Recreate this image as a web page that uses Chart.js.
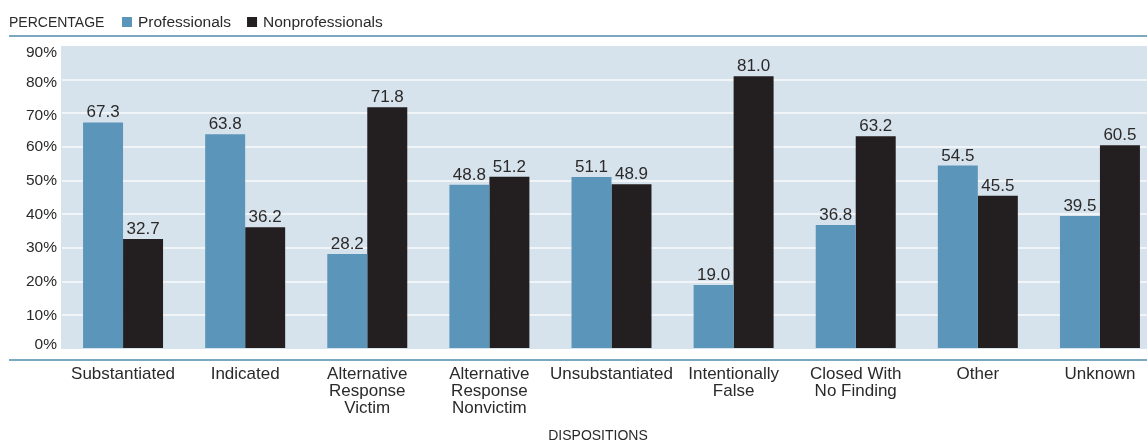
<!DOCTYPE html>
<html><head><meta charset="utf-8">
<script src="https://cdn.jsdelivr.net/npm/chart.js@4.4.1/dist/chart.umd.min.js"></script>
<style>
html,body{margin:0;padding:0;background:#fff;overflow:hidden;width:1147px;height:441px}
#wrap{position:absolute;left:0;top:0;width:1161px;height:441px}
</style></head><body>
<div id="wrap"><canvas id="c"></canvas></div>
<script>
// ---- data ----
const categories = [
  ['Substantiated'], ['Indicated'], ['Alternative', 'Response', 'Victim'],
  ['Alternative', 'Response', 'Nonvictim'], ['Unsubstantiated'], ['Intentionally', 'False'],
  ['Closed With', 'No Finding'], ['Other'], ['Unknown']
];
const professionals    = [67.3, 63.8, 28.2, 48.8, 51.1, 19.0, 36.8, 54.5, 39.5];
const nonprofessionals = [32.7, 36.2, 71.8, 51.2, 48.9, 81.0, 63.2, 45.5, 60.5];
const yTickValues = [0, 10, 20, 30, 40, 50, 60, 70, 80, 90];
const yTickLabels = ['0%', '10%', '20%', '30%', '40%', '50%', '60%', '70%', '80%', '90%'];
const seriesNames = ['Professionals', 'Nonprofessionals'];
const yTitle = 'PERCENTAGE';
const xTitle = 'DISPOSITIONS';

// ---- style ----
const FONT = "'Liberation Sans', Arial, sans-serif";
const TEXT = '#2b2a2a';
const BLUE = '#5b95b9';
const BLACK = '#231f20';
const PLOT_BG = '#d7e3ec';
const RULE = '#7ba8c0';

const frame = {
  id: 'frame',
  beforeDraw(chart) {
    const { ctx, chartArea: a } = chart;
    ctx.save();
    ctx.fillStyle = PLOT_BG;
    ctx.fillRect(a.left - 1, a.top, chart.width - a.left + 1, a.bottom - a.top);
    ctx.fillStyle = RULE;
    ctx.fillRect(9, 35, chart.width, 2);
    ctx.fillRect(9, a.bottom + 10, chart.width, 2);

    ctx.fillStyle = TEXT;
    ctx.textBaseline = 'alphabetic';
    ctx.textAlign = 'left';
    ctx.font = `14px ${FONT}`;
    ctx.fillText(yTitle, 9, 27);
    ctx.font = `15.5px ${FONT}`;
    const ds = chart.data.datasets;
    let x = 122;
    ds.forEach((d) => {
      ctx.fillStyle = d.backgroundColor;
      ctx.fillRect(x, 17, 10, 10);
      ctx.fillStyle = TEXT;
      ctx.fillText(d.label, x + 16, 27);
      x += 16 + ctx.measureText(d.label).width + 16;
    });
    ctx.font = `14px ${FONT}`;
    ctx.textAlign = 'center';
    ctx.fillText(xTitle, 598, 440);
    ctx.restore();
  }
};

const valueLabels = {
  id: 'valueLabels',
  afterDatasetsDraw(chart) {
    const ctx = chart.ctx;
    ctx.save();
    ctx.fillStyle = TEXT;
    ctx.font = `17px ${FONT}`;
    ctx.textAlign = 'center';
    ctx.textBaseline = 'alphabetic';
    chart.data.datasets.forEach((d, i) => {
      chart.getDatasetMeta(i).data.forEach((bar, j) => {
        ctx.fillText(d.data[j].toFixed(1), bar.x, bar.y - 5);
      });
    });
    ctx.restore();
  }
};

new Chart(document.getElementById('c'), {
  type: 'bar',
  data: {
    labels: categories,
    datasets: [
      { label: seriesNames[0], data: professionals, backgroundColor: BLUE, categoryPercentage: 0.655, barPercentage: 1 },
      { label: seriesNames[1], data: nonprofessionals, backgroundColor: BLACK, categoryPercentage: 0.655, barPercentage: 1 }
    ]
  },
  options: {
    responsive: true,
    maintainAspectRatio: false,
    animation: false,
    layout: { padding: { top: 46, left: 0, right: 0, bottom: 0 } },
    plugins: { legend: { display: false }, tooltip: { enabled: false } },
    scales: {
      x: {
        grid: { display: false, drawTicks: false },
        border: { display: false },
        ticks: { color: TEXT, font: { family: FONT, size: 17, lineHeight: 1.0 }, padding: 17, maxRotation: 0, autoSkip: false },
        afterFit(s) { s.height = 92; }
      },
      y: {
        min: 0, max: 90,
        ticks: { stepSize: 10, display: false },
        grid: {
          color: (c) => (c.tick.value === 0 || c.tick.value === 90) ? 'rgba(0,0,0,0)' : '#f1f5f8',
          lineWidth: 2, drawTicks: false
        },
        border: { display: false },
        afterFit(s) { s.width = 0; }
      },
      yl: {
        position: 'left', min: 0, max: 90,
        grid: { display: false, drawTicks: false },
        border: { display: false },
        ticks: { color: TEXT, font: { family: FONT, size: 15.5 }, padding: 5, callback: (v, i) => yTickLabels[i] },
        afterBuildTicks(s) {
          const nudge = { 0: 1.4, 70: -0.6, 80: -0.8, 90: -2 };
          s.ticks = yTickValues.map(v => ({ value: v + (nudge[v] || 0) }));
        },
        afterFit(s) { s.width = 62; }
      }
    }
  },
  plugins: [frame, valueLabels]
});
</script>
</body></html>
